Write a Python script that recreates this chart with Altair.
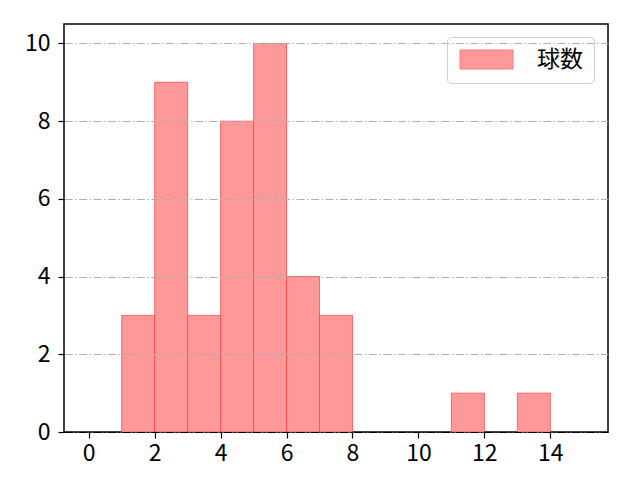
import altair as alt
import pandas as pd

# Histogram bins (left edge, right edge) and counts
bin_start = [1, 2, 3, 4, 5, 6, 7, 11, 13]
bin_end = [2, 3, 4, 5, 6, 7, 8, 12, 14]
counts = [3, 9, 3, 8, 10, 4, 3, 1, 1]
series_name = "球数"
x_ticks = [0, 2, 4, 6, 8, 10, 12, 14]
y_ticks = [0, 2, 4, 6, 8, 10]

df = pd.DataFrame({
    "start": bin_start,
    "end": bin_end,
    "count": counts,
    "series": [series_name] * len(counts),
})

FONT = "Noto Sans CJK JP"
FS = 23

chart = alt.Chart(df).mark_bar(
    stroke="#ff3b3b", strokeOpacity=0.7, strokeWidth=1
).encode(
    x=alt.X(
        "start:Q",
        scale=alt.Scale(domain=[-0.75, 15.75], nice=False, zero=False),
        axis=alt.Axis(values=x_ticks, title=None, grid=False, domain=False,
                      tickColor="black", tickSize=6, tickWidth=1.2,
                      labelPadding=4, labelFontSize=FS, labelFont=FONT,
                      labelColor="black", format="d"),
    ),
    x2="end:Q",
    y=alt.Y(
        "count:Q",
        scale=alt.Scale(domain=[0, 10.5], nice=False),
        axis=alt.Axis(values=y_ticks, title=None, grid=True, domain=False,
                      gridColor=alt.condition("datum.value == 0",
                                              alt.value("black"),
                                              alt.value("#b0b0b0")),
                      gridDash=[8, 2.5, 1.5, 2.5],
                      gridWidth=1, zindex=1,
                      tickColor="black", tickSize=6, tickWidth=1.2,
                      labelPadding=8, labelFontSize=FS, labelFont=FONT,
                      labelColor="black", format="d"),
    ),
    y2=alt.datum(0),
    fill=alt.Fill(
        "series:N",
        scale=alt.Scale(range=["#ff9999"]),
        legend=alt.Legend(
            title=None, orient="none", legendX=383, legendY=13,
            symbolType="M-1,-1H4.58V1H-1Z", symbolSize=361,
            symbolStrokeColor="#ff7a7a", symbolStrokeWidth=1,
            symbolFillColor="#ff9999", symbolOpacity=1,
            labelFont=FONT, labelFontSize=FS, labelColor="black",
            labelOffset=56, padding=11,
            strokeColor="#d0d0d0", fillColor="white", cornerRadius=4,
        ),
    ),
).properties(
    width=544,
    height=408,
    autosize=alt.AutoSizeParams(type="none"),
    padding={"left": 56, "top": 16, "right": 24, "bottom": 40},
).configure(
    background="white"
).configure_view(
    stroke="black", strokeWidth=1.5
)

chart.save("out.html", embed_options={"renderer": "svg", "actions": False})
